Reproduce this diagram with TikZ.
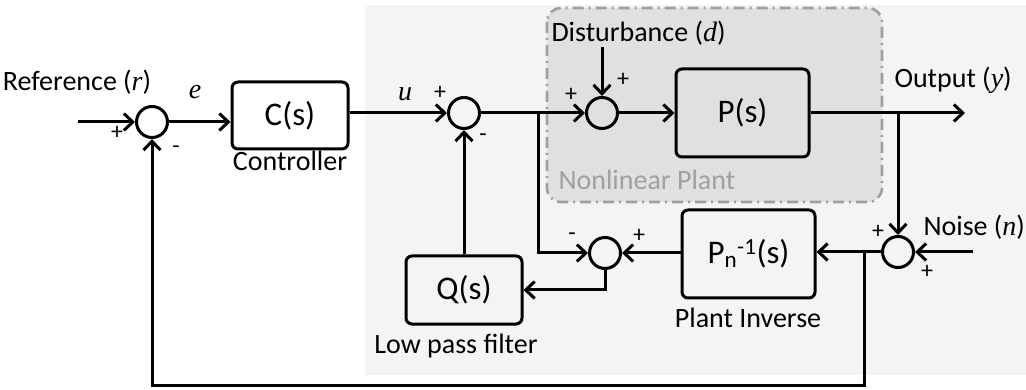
\documentclass[tikz,border=0pt]{standalone}
\usepackage{fontspec}
\setmainfont{Carlito}
\newfontfamily\varfont{Liberation Serif}
\usetikzlibrary{arrows.meta,calc}
\definecolor{bggray}{HTML}{F4F4F4}
\definecolor{plantgray}{HTML}{E0E0E0}
\definecolor{dashgray}{HTML}{A0A0A0}
\newcommand{\vv}[1]{{\varfont\itshape #1}}
\begin{document}
\begin{tikzpicture}[x=1pt,y=-1pt,line width=3pt,
  blk/.style={draw,rounded corners=6pt,inner sep=0pt,font=\fontsize{33}{38}\selectfont},
  sumc/.style={draw,circle,minimum size=31pt,inner sep=0pt},
  lbl/.style={font=\fontsize{28}{32}\selectfont,inner sep=0pt},
  sgn/.style={font=\fontsize{24}{28}\selectfont,inner sep=0pt},
  arr/.style={-{Straight Barb[length=9pt,width=17pt]}}]
\useasboundingbox (0,0) rectangle (1026,390);
\fill[bggray] (365,5) rectangle (1026,375);
\draw[fill=plantgray,draw=dashgray,line width=2.6pt,dash pattern=on 11pt off 5pt on 2pt off 5pt,rounded corners=14pt] (547,8) rectangle (882,202);
% nodes
\node[sumc] (s1) at (152,122) {};
\node[blk,minimum width=116pt,minimum height=67pt] (C) at (290,115.5) {C(s)};
\node[sumc] (s2) at (464,113) {};
\node[sumc] (s4) at (602,113) {};
\node[blk,fill=plantgray,minimum width=133pt,minimum height=88pt] (P) at (742.5,113) {P(s)};
\node[sumc] (s5) at (898,252) {};
\node[blk,minimum width=133pt,minimum height=88pt] (Pinv) at (748.5,254) {P\textsubscript{n}\textsuperscript{-1}(s)};
\node[sumc] (s3) at (605,253) {};
\node[blk,minimum width=116pt,minimum height=68pt] (Q) at (464,290) {Q(s)};
% coordinates
\coordinate (rin) at (78,122);
\coordinate (yout) at (965,113);
\coordinate (nin) at (973,252);
\coordinate (dist) at (602,47);
\coordinate (br1) at (538,113);
\coordinate (br2) at (898,113);
\coordinate (br3) at (864,252);
\coordinate (fbc) at (864,385);
% connectors
\draw[arr] (rin) -- (s1);
\draw[arr] (s1) -- (s1 -| C.west);
\draw[arr] (C.east |- s2) -- (s2);
\draw[arr] (s2) -- (s4);
\draw[arr] (s4) -- (P);
\draw[arr] (P) -- (yout);
\draw[arr] (dist) -- (s4);
\draw[arr] (br1) |- (s3);
\draw[arr] (br2) -- (s5);
\draw[arr] (nin) -- (s5);
\draw[arr] (s5) -- (s5 -| Pinv.east);
\draw[arr] (Pinv.west |- s3) -- (s3);
\draw[arr] (s3) |- (Q);
\draw[arr] (Q) -- (s2);
\draw[arr] (br3) -- (fbc) -| (s1);
% labels
\node[lbl] (tref) at (77,82) {Reference (\vv{r})};
\node[lbl] (te) at (195,92) {\vv{e}};
\node[lbl] (tctrl) at (290,161) {Controller};
\node[lbl] (tu) at (405,94) {\vv{u}};
\node[lbl,anchor=west] (tdist) at (550,33) {Disturbance (\vv{d})};
\node[lbl,anchor=west] (tout) at (893,80) {Output (\vv{y})};
\node[lbl,anchor=west,text=dashgray] (tnl) at (557,180) {Nonlinear Plant};
\node[lbl,anchor=west] (tnoise) at (922,227) {Noise (\vv{n})};
\node[lbl] (tpinv) at (748,318) {Plant Inverse};
\node[lbl] (tlpf) at (456,346) {Low pass filter};
% signs
\node[sgn] (p1) at (117,133) {+};
\node[sgn] (m1) at (176,150) {-};
\node[sgn] (p2) at (440,93) {+};
\node[sgn] (m2) at (483,138) {-};
\node[sgn] (p4a) at (571,95) {+};
\node[sgn] (p4b) at (623,80) {+};
\node[sgn] (m3) at (572,237) {-};
\node[sgn] (p3) at (639,236) {+};
\node[sgn] (p5a) at (878,232) {+};
\node[sgn] (p5b) at (927,272) {+};
\end{tikzpicture}
\end{document}
